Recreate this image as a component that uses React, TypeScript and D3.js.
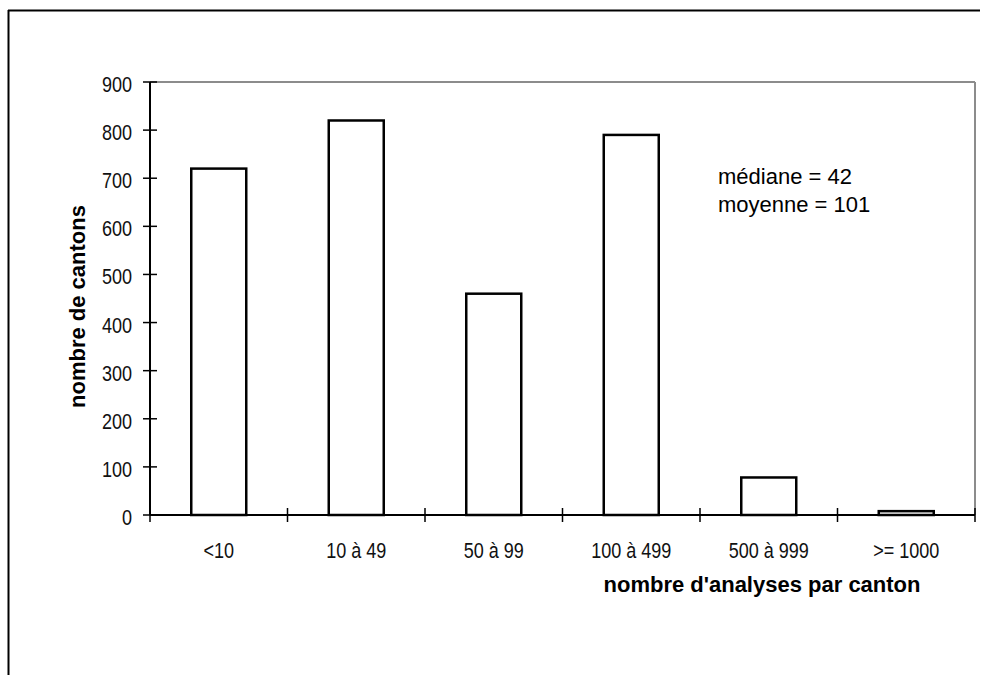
import React from "react";
import * as d3 from "d3";

const categories = ["<10", "10 à 49", "50 à 99", "100 à 499", "500 à 999", ">= 1000"];
const counts = [720, 820, 460, 790, 78, 8];
const yTicks = [0, 100, 200, 300, 400, 500, 600, 700, 800, 900];
const notes = ["médiane = 42", "moyenne = 101"];

const W = 985;
const H = 675;
const plot = { left: 150, right: 975, top: 82, bottom: 515 };

const sans = "'Liberation Sans', Arial, Helvetica, sans-serif";
// no narrow face installed, so squeeze Liberation Sans horizontally
const squeeze = 0.82;

export default function App() {
    const x = d3.scaleBand<string>()
        .domain(categories)
        .range([plot.left, plot.right])
        .paddingInner(0.6)
        .paddingOuter(0.3);

    const y = d3.scaleLinear().domain([0, 900]).range([plot.bottom, plot.top]);

    const half = (x.step() - x.bandwidth()) / 2;
    const bounds = categories.map(c => x(c)! - half);
    bounds.push(bounds[bounds.length - 1] + x.step());

    return (
        <svg
            width={W}
            height={H}
            style={{ position: "absolute", left: 0, top: 0, background: "#fff" }}
        >
            {/* outer frame */}
            <line x1={8} y1={10.5} x2={980} y2={10.5} stroke="#000" strokeWidth={2} />
            <line x1={8.5} y1={10} x2={8.5} y2={H} stroke="#000" strokeWidth={2} />

            {/* plot area border (grey top / right) */}
            <line x1={plot.left} y1={plot.top} x2={plot.right} y2={plot.top} stroke="#8c8c8c" strokeWidth={2} />
            <line x1={plot.right} y1={plot.top} x2={plot.right} y2={plot.bottom} stroke="#8c8c8c" strokeWidth={2} />

            {/* bars */}
            {categories.map((c, i) => (
                <rect
                    key={c}
                    x={x(c)}
                    y={y(counts[i])}
                    width={x.bandwidth()}
                    height={y(0) - y(counts[i])}
                    fill="#fff"
                    stroke="#000"
                    strokeWidth={2.5}
                />
            ))}

            {/* y axis */}
            <line x1={plot.left} y1={plot.top} x2={plot.left} y2={plot.bottom} stroke="#000" strokeWidth={2} />
            {yTicks.map(t => (
                <g key={t}>
                    <line x1={plot.left - 7} x2={plot.left + 7} y1={y(t)} y2={y(t)} stroke="#000" strokeWidth={1.5} />
                    <text
                        transform={`translate(132,${y(t) + 10}) scale(${squeeze},1)`}
                        textAnchor="end"
                        fontFamily={sans}
                        fontSize={22}
                        fill="#111"
                    >
                        {t}
                    </text>
                </g>
            ))}

            {/* x axis */}
            <line x1={plot.left} y1={plot.bottom} x2={plot.right} y2={plot.bottom} stroke="#000" strokeWidth={2} />
            {bounds.map((b, i) => (
                <line key={i} x1={b} x2={b} y1={plot.bottom - 7} y2={plot.bottom + 7} stroke="#000" strokeWidth={1.5} />
            ))}
            {categories.map(c => (
                <text
                    key={c}
                    transform={`translate(${x(c)! + x.bandwidth() / 2},558) scale(${squeeze},1)`}
                    textAnchor="middle"
                    fontFamily={sans}
                    fontSize={22}
                    fill="#111"
                >
                    {c}
                </text>
            ))}

            {/* axis titles */}
            <text
                x={762}
                y={592}
                textAnchor="middle"
                fontFamily={sans}
                fontWeight="bold"
                fontSize={22}
                fill="#000"
            >
                nombre d'analyses par canton
            </text>
            <text
                transform={`translate(85,${(plot.top + plot.bottom) / 2 + 8}) rotate(-90)`}
                textAnchor="middle"
                fontFamily={sans}
                fontWeight="bold"
                fontSize={22}
                fill="#000"
            >
                nombre de cantons
            </text>

            {/* annotation */}
            {notes.map((n, i) => (
                <text
                    key={n}
                    x={718}
                    y={184 + i * 28}
                    fontFamily={sans}
                    fontSize={22}
                    fill="#000"
                >
                    {n}
                </text>
            ))}
        </svg>
    );
}
